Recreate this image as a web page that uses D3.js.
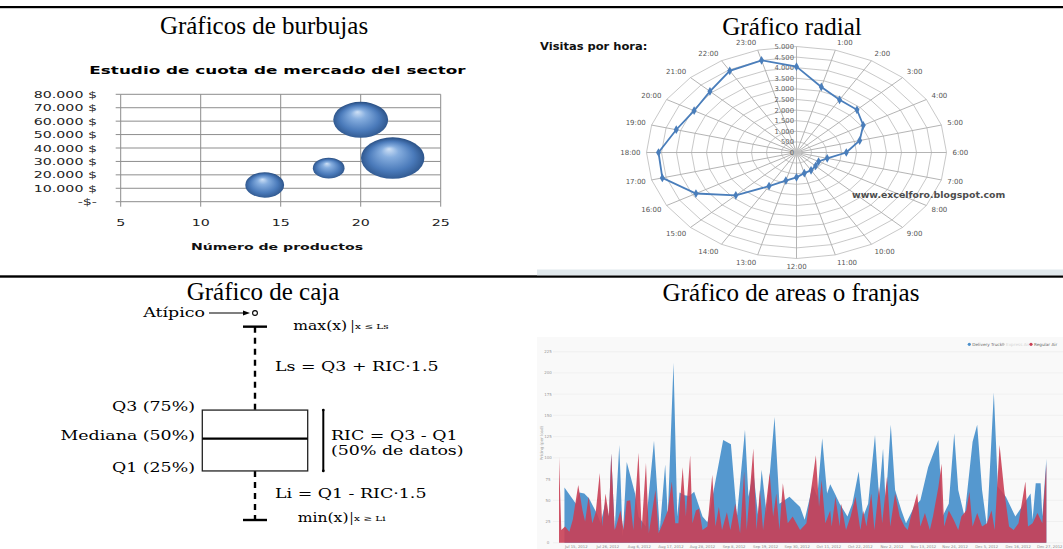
<!DOCTYPE html>
<html><head><meta charset="utf-8">
<script src="https://cdn.jsdelivr.net/npm/d3@7"></script>
<style>body{margin:0;background:#fff}svg{display:block}</style>
</head><body>
<svg id="c" width="1063" height="549"></svg>
<script>
// ---------- Bubble chart data ----------
const bubbleProducts = [14, 18, 20, 22];
const bubbleRevenue  = [12500, 25000, 61000, 32500];
const bubbleShare    = [15, 10, 30, 40];
const bubbleXTicks   = [5, 10, 15, 20, 25];
const bubbleYTicks   = [0, 10000, 20000, 30000, 40000, 50000, 60000, 70000, 80000];

// ---------- Radar data (visits per hour) ----------
const radarHours  = ["0:00","1:00","2:00","3:00","4:00","5:00","6:00","7:00","8:00","9:00","10:00","11:00",
                     "12:00","13:00","14:00","15:00","16:00","17:00","18:00","19:00","20:00","21:00","22:00","23:00"];
const radarVisits = [4050, 3200, 2870, 2850, 2570, 2180, 1660, 1060, 850, 900, 970, 1010,
                     1170, 1370, 1830, 2860, 3870, 4630, 4600, 4150, 3940, 4080, 4450, 4500];
const radarTicks  = [0, 500, 1000, 1500, 2000, 2500, 3000, 3500, 4000, 4500, 5000];

// ---------- Box plot (schematic) ----------
const boxStatNames  = ["min", "q1", "median", "q3", "max"];
const boxStatValues = [0, 2.37, 3.93, 5.31, 9.34];
const boxOutliers   = [10];

// ---------- Area chart: [day since 9 Jul 2012, price] ----------
const deliveryTruck = [[1.9,65],[5.9,46],[7.1,59],[8.8,58],[10.5,52],[13.4,33],[14.5,23],[16.2,48],[17.4,31],[18.2,105],
  [19.4,15],[21,115],[22.2,7],[23.6,95],[26.5,58],[27.7,31],[30.2,19],[33.1,120],[35.1,15],[37,92],[37.9,31],[39.9,212],
  [41.2,31],[42,59],[43.7,56],[45.4,55],[47.1,60],[48.5,46],[50,31],[51.7,24],[52.2,31],[57.2,121],[59.9,116],[62,31],
  [64.8,133],[66,54],[67.7,84],[69.4,31],[70.6,86],[72.3,35],[75.1,148],[76.8,46],[80.3,54],[84,42],[85.6,27],[88.4,68],
  [90,54],[91.7,123],[93.4,58],[94.5,69],[96.1,58],[97.8,46],[100.5,31],[102.2,46],[104.4,84],[106,31],[107.7,46],
  [110.1,127],[111.5,54],[112.9,111],[113.8,46],[115.6,139],[117.1,62],[119.3,38],[120.9,23],[123.7,42],[125.9,50],
  [128.6,89],[132.2,121],[133.6,31],[135.8,46],[137.7,129],[139.1,62],[141.3,31],[144.1,119],[145.7,139],[147.4,62],
  [149.1,19],[151.5,177],[152.9,66],[155.7,54],[159,31],[161.2,42],[164.3,58],[165,27],[166.1,70],[167.8,70],[168.4,31],[169.8,99]];
const regularAir = [[0,101],[0.8,15],[2.1,19],[3.6,13],[4.8,27],[6.7,68],[8.2,38],[9.1,25],[10.3,54],[11.6,23],[12.8,36],
  [14.2,82],[15.1,19],[16.2,58],[17.4,31],[18.2,105],[19.4,15],[19.9,19],[21.4,38],[22.5,15],[23.6,49],[24.8,50],[25.9,15],
  [27.7,106],[28.8,15],[30.3,94],[31.3,11],[32.5,38],[33.6,62],[34.7,11],[36.2,23],[37.9,38],[39.3,72],[40.5,23],[41.6,23],
  [43.1,89],[44.2,31],[45.7,103],[46.5,23],[47.7,38],[48.8,40],[50,15],[51.7,19],[53.4,80],[54.5,19],[55.7,42],[56.8,15],
  [58.5,36],[59.7,15],[61.4,46],[63.1,11],[64.5,84],[65.4,15],[67.7,111],[68.8,15],[70,62],[71.1,15],[73.4,82],[74.6,31],
  [75.7,58],[76.8,15],[78,70],[79.7,23],[81.4,31],[84,15],[86.2,23],[89.5,103],[90.6,42],[91.5,74],[92.8,23],[94.5,38],
  [95,19],[96.3,54],[97.8,19],[98.3,46],[100,15],[101.6,31],[103.3,54],[105,15],[106,38],[107.1,19],[108.8,58],[109.9,15],
  [111.5,66],[112.6,23],[114.3,78],[115.4,19],[117.1,58],[118.7,31],[120.4,19],[121.5,15],[122.6,31],[124.8,58],[125.9,19],
  [127.5,35],[129.2,15],[130.3,31],[132.2,66],[133.3,93],[134.2,19],[135.8,38],[137.5,27],[139.1,15],[140.2,31],[141.9,38],
  [143,60],[144.1,19],[145.7,35],[147.4,19],[149.1,23],[150.7,38],[151.8,15],[153.5,115],[155.1,62],[156.8,19],[158.4,15],
  [160.1,23],[162.5,72],[163.4,19],[165,23],[166.7,35],[168.4,23],[169.8,93]];
const areaYTicks = [0, 25, 50, 75, 100, 125, 150, 175, 200, 225];
const areaLegend = ["Delivery Truck", "Express Air", "Regular Air"];

const svg = d3.select("#c");
svg.append("rect").attr("width", 1063).attr("height", 549).attr("fill", "#fff");

// text helper: allows horizontal stretching of the glyphs
function label(parent, x, y, txt, o = {}) {
  return parent.append("text")
    .attr("transform", `translate(${x},${y}) scale(${o.sx || 1},1)`)
    .attr("font-family", o.family || "DejaVu Sans")
    .attr("font-size", o.size || 10)
    .attr("font-weight", o.weight || "normal")
    .attr("fill", o.fill || "#000")
    .attr("text-anchor", o.anchor || "start")
    .text(txt);
}

// page rules
svg.append("rect").attr("x", 0).attr("y", 6).attr("width", 1063).attr("height", 2.2).attr("fill", "#000");
svg.append("rect").attr("x", 0).attr("y", 275.3).attr("width", 1063).attr("height", 2.4).attr("fill", "#000");

// panel titles
const serif = "Liberation Serif";
label(svg, 264, 34, "Gráficos de burbujas", {family: serif, size: 25, anchor: "middle"});
label(svg, 792, 35, "Gráfico radial", {family: serif, size: 25, anchor: "middle"});
label(svg, 263, 300, "Gráfico de caja", {family: serif, size: 25, anchor: "middle"});
label(svg, 791, 301, "Gráfico de areas o franjas", {family: serif, size: 25, anchor: "middle"});

// ================= Bubble chart =================
{
  const g = svg.append("g");
  const x = d3.scaleLinear().domain([5, 25]).range([120.7, 440.7]);
  const y = d3.scaleLinear().domain([0, 80000]).range([201.7, 94.3]);
  const r = d3.scaleSqrt().domain([0, 40]).range([0, 31.7]);
  const sx = 1.53;

  const defs = svg.append("defs");
  const grad = defs.append("radialGradient").attr("id", "bub")
    .attr("cx", "50%").attr("cy", "55%").attr("r", "55%").attr("fx", "44%").attr("fy", "28%");
  grad.append("stop").attr("offset", "0%").attr("stop-color", "#cfe1f6");
  grad.append("stop").attr("offset", "25%").attr("stop-color", "#86aedf");
  grad.append("stop").attr("offset", "65%").attr("stop-color", "#4a7aba");
  grad.append("stop").attr("offset", "100%").attr("stop-color", "#264b7e");

  g.selectAll(".hg").data(bubbleYTicks).join("line")
    .attr("x1", x(5)).attr("x2", x(25)).attr("y1", d => y(d)).attr("y2", d => y(d))
    .attr("stroke", "#8d8d8d").attr("stroke-width", 1);
  g.selectAll(".vg").data(bubbleXTicks).join("line")
    .attr("x1", d => x(d)).attr("x2", d => x(d)).attr("y1", y(0)).attr("y2", y(80000))
    .attr("stroke", "#8d8d8d").attr("stroke-width", 1);
  // tick marks
  g.selectAll(".yt").data(bubbleYTicks).join("line")
    .attr("x1", x(5) - 5).attr("x2", x(5)).attr("y1", d => y(d)).attr("y2", d => y(d))
    .attr("stroke", "#8d8d8d");
  g.selectAll(".xt").data(bubbleXTicks).join("line")
    .attr("x1", d => x(d)).attr("x2", d => x(d)).attr("y1", y(0)).attr("y2", y(0) + 5)
    .attr("stroke", "#8d8d8d");

  const money = v => v === 0 ? "-$-" : d3.format(",")(v).replace(/,/g, ".") + " $";
  bubbleYTicks.forEach(v => label(g, 97, y(v) + 3.5, money(v), {size: 9.3, sx, anchor: "end", fill: "#222"}));
  bubbleXTicks.forEach(v => label(g, x(v), 225.5, String(v), {size: 9.3, sx, anchor: "middle", fill: "#222"}));

  label(g, 277.5, 74, "Estudio de cuota de mercado del sector", {size: 11, weight: "bold", sx, anchor: "middle"});
  label(g, 277, 250, "Número de productos", {size: 9.4, weight: "bold", sx: 1.5, anchor: "middle", fill: "#111"});

  g.selectAll(".bub").data(bubbleProducts).join("ellipse")
    .attr("cx", (d, i) => x(d)).attr("cy", (d, i) => y(bubbleRevenue[i]))
    .attr("rx", (d, i) => r(bubbleShare[i])).attr("ry", (d, i) => r(bubbleShare[i]) * 0.655)
    .attr("fill", "url(#bub)");
}

// ================= Radar chart =================
{
  const g = svg.append("g");
  const cx = 796.5, cy = 152.5, RX = 150, RY = 106;
  const rr = d3.scaleLinear().domain([0, 5000]).range([0, 1]);
  const ang = i => i * 2 * Math.PI / radarHours.length;
  const pt = (i, v) => [cx + RX * rr(v) * Math.sin(ang(i)), cy - RY * rr(v) * Math.cos(ang(i))];

  // spreadsheet strip below the chart
  g.append("rect").attr("x", 537).attr("y", 269.5).attr("width", 526).attr("height", 5.8).attr("fill", "#e1e9ed");

  label(g, 540, 49.5, "Visitas por hora:", {size: 10, weight: "bold", sx: 1.15, fill: "#111"});

  radarTicks.slice(1).forEach(t => {
    g.append("path")
      .attr("d", d3.line().curve(d3.curveLinearClosed)(radarHours.map((h, i) => pt(i, t))))
      .attr("fill", "none").attr("stroke", "#c2c2c2").attr("stroke-width", 0.9);
  });
  radarHours.forEach((h, i) => {
    const [x2, y2] = pt(i, 5000);
    g.append("line").attr("x1", cx).attr("y1", cy).attr("x2", x2).attr("y2", y2)
      .attr("stroke", "#ababab").attr("stroke-width", 0.9);
  });
  g.append("circle").attr("cx", cx).attr("cy", cy).attr("r", 5).attr("fill", "#c9c9c9").attr("opacity", 0.6);

  const fmt = v => d3.format(",")(v).replace(/,/g, ".");
  radarTicks.forEach(t => label(g, 794, cy - RY * rr(t) + 2.4, fmt(t), {size: 6.8, anchor: "end", fill: "#666"}));

  radarHours.forEach((h, i) => {
    if (i === 0) return;
    const s = Math.sin(ang(i)), c = Math.cos(ang(i));
    const lx = cx + (RX + 6) * s, ly = cy - (RY + 8) * c + 2.4;
    const anchor = s > 0.2 ? "start" : s < -0.2 ? "end" : "middle";
    label(g, lx, ly, h, {size: 7, anchor, fill: "#555"});
  });

  const pts = radarVisits.map((v, i) => pt(i, v));
  g.append("path").attr("d", d3.line().curve(d3.curveLinearClosed)(pts))
    .attr("fill", "none").attr("stroke", "#4a7ebb").attr("stroke-width", 1.8);
  g.selectAll(".mk").data(pts).join("path")
    .attr("transform", d => `translate(${d[0]},${d[1]})`)
    .attr("d", d3.symbol(d3.symbolDiamond, 22)).attr("fill", "#4a7ebb");

  label(g, 852, 198, "www.excelforo.blogspot.com", {size: 9.4, weight: "bold", fill: "#4d4d4d"});
}

// ================= Box plot =================
{
  const g = svg.append("g");
  const y = d3.scaleLinear().domain([0, 10]).range([520, 313]);
  const cx = 255, half = 52.7, sx = 1.45, ds = "DejaVu Serif";
  const v = Object.fromEntries(boxStatNames.map((n, i) => [n, boxStatValues[i]]));

  // whiskers
  g.append("line").attr("x1", cx).attr("x2", cx).attr("y1", y(v.max)).attr("y2", y(v.q3))
    .attr("stroke", "#000").attr("stroke-width", 2.4).attr("stroke-dasharray", "6,5");
  g.append("line").attr("x1", cx).attr("x2", cx).attr("y1", y(v.q1)).attr("y2", y(v.min))
    .attr("stroke", "#000").attr("stroke-width", 2.4).attr("stroke-dasharray", "6,5");
  [v.max, v.min].forEach(k => g.append("line").attr("x1", cx - 12).attr("x2", cx + 12)
    .attr("y1", y(k)).attr("y2", y(k)).attr("stroke", "#000").attr("stroke-width", 2.4));

  // box
  g.append("rect").attr("x", cx - half).attr("y", y(v.q3)).attr("width", half * 2)
    .attr("height", y(v.q1) - y(v.q3)).attr("fill", "#fff").attr("stroke", "#222").attr("stroke-width", 1.3);
  g.append("line").attr("x1", cx - half).attr("x2", cx + half).attr("y1", y(v.median)).attr("y2", y(v.median))
    .attr("stroke", "#000").attr("stroke-width", 2.2);

  // outlier + arrow
  boxOutliers.forEach(o => g.append("circle").attr("cx", cx).attr("cy", y(o)).attr("r", 2.4)
    .attr("fill", "#fff").attr("stroke", "#000").attr("stroke-width", 1.1));
  g.append("line").attr("x1", 209).attr("x2", 246).attr("y1", y(10)).attr("y2", y(10))
    .attr("stroke", "#000").attr("stroke-width", 1.1);
  g.append("path").attr("d", `M250,${y(10)} L243,${y(10) - 2.5} L243,${y(10) + 2.5} Z`).attr("fill", "#000");
  label(g, 205, y(10) + 4, "Atípico", {family: ds, size: 12, sx, anchor: "end"});

  // IQR bracket
  g.append("line").attr("x1", 323.3).attr("x2", 323.3).attr("y1", y(v.q3)).attr("y2", y(v.q1))
    .attr("stroke", "#000").attr("stroke-width", 2);
  [v.q3, v.q1].forEach(k => g.append("circle").attr("cx", 323.3).attr("cy", y(k)).attr("r", 1.4).attr("fill", "#000"));

  // left labels
  label(g, 195, y(v.q3) + 0.5, "Q3 (75%)", {family: ds, size: 12, sx, anchor: "end"});
  label(g, 195, y(v.median) + 1.5, "Mediana (50%)", {family: ds, size: 12, sx, anchor: "end"});
  label(g, 195, y(v.q1) + 1.5, "Q1 (25%)", {family: ds, size: 12, sx, anchor: "end"});

  // right labels
  label(g, 331, 440, "RIC = Q3 - Q1", {family: ds, size: 12, sx});
  label(g, 331, 454.5, "(50% de datos)", {family: ds, size: 12, sx});
  label(g, 275, 371, "Ls = Q3 + RIC·1.5", {family: ds, size: 12, sx});
  label(g, 275, 497.5, "Li = Q1 - RIC·1.5", {family: ds, size: 12, sx});

  // limit annotations: value, bar, small condition
  label(g, 293.3, 329.5, "max(x)", {family: ds, size: 12, sx: 1.3});
  label(g, 350.5, 330, "|", {family: ds, size: 12});
  label(g, 355, 329, "x ≤ Ls", {family: ds, size: 7.5, sx: 1.4});
  label(g, 297.7, 521.5, "min(x)", {family: ds, size: 12, sx: 1.3});
  label(g, 349.5, 522, "|", {family: ds, size: 12});
  label(g, 354, 521, "x ≥ Li", {family: ds, size: 7.5, sx: 1.4});
}

// ================= Area chart =================
{
  const g = svg.append("g");
  const start = new Date(2012, 6, 9);
  const toDate = d => new Date(start.getTime() + d * 864e5);
  const x = d3.scaleTime().domain([start, toDate(171)]).range([559, 1049.8]);
  const y = d3.scaleLinear().domain([0, 225]).range([542.7, 351.7]);

  g.append("rect").attr("x", 537).attr("y", 337).attr("width", 526).attr("height", 212).attr("fill", "#f9f9f9");
  g.selectAll(".ag").data(areaYTicks).join("line")
    .attr("x1", 553).attr("x2", 1063).attr("y1", d => y(d)).attr("y2", d => y(d))
    .attr("stroke", "#ececec").attr("stroke-width", 0.7);
  areaYTicks.forEach(t => label(g, 548, y(t) + 1.5, String(t), {size: 4, anchor: "middle", fill: "#999"}));

  label(g, 0, 0, "Pricing (per load)", {size: 4, anchor: "middle", fill: "#999"})
    .attr("transform", "translate(543,443) rotate(-90)");

  const tickDays = d3.range(16).map(i => 6 + 11 * i);
  const tf = d3.timeFormat("%b %-d, %Y");
  tickDays.forEach(d => label(g, x(toDate(d)), 548, tf(toDate(d)), {size: 3.8, anchor: "middle", fill: "#888"}));

  const area = d3.area().x(d => x(toDate(d[0]))).y0(y(0)).y1(d => y(d[1]));
  g.append("path").attr("d", area(deliveryTruck)).attr("fill", "#5598cf");
  g.append("path").attr("d", area(regularAir)).attr("fill", "#c93f55").attr("fill-opacity", 0.9);

  // legend
  const lx = [969.3, 1003, 1031], lc = ["#4b8fcb", "#c8c8c8", "#c93f55"], tc = ["#666", "#d5d5d5", "#666"];
  areaLegend.forEach((n, i) => {
    g.append("circle").attr("cx", lx[i]).attr("cy", 344.3).attr("r", 1.6).attr("fill", lc[i]);
    label(g, lx[i] + 3, 345.8, n, {size: 4.2, fill: tc[i]});
  });
}
</script>
</body></html>
